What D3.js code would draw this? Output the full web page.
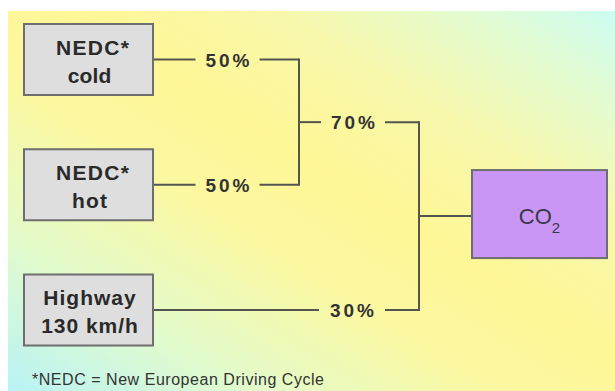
<!DOCTYPE html>
<html>
<head>
<meta charset="utf-8">
<script src="https://cdn.jsdelivr.net/npm/d3@7"></script>
<style>
  html, body { margin: 0; padding: 0; background: #ffffff; }
  svg { display: block; }
  text { font-family: "Liberation Sans", Arial, sans-serif; }
</style>
</head>
<body>
<div id="chart"></div>
<script>
// ---------------- data ----------------
const sourceIds = ["cold", "hot", "highway"];
const sourceLabels = [["NEDC*", "cold"], ["NEDC*", "hot"], ["Highway", "130 km/h"]];
const nedcShares = [50, 50];          // cold, hot  -> share within NEDC
const cycleShares = [70, 30];         // NEDC (combined), Highway -> share of CO2
const targetMain = "CO";
const targetSub = "2";
const footnote = "*NEDC = New European Driving Cycle";

// ---------------- layout ----------------
const W = 615, H = 391;
const svg = d3.select("#chart").append("svg").attr("width", W).attr("height", H);

const defs = svg.append("defs");
const grad = defs.append("linearGradient").attr("id", "bg")
  .attr("x1", 0).attr("y1", 1).attr("x2", 1).attr("y2", 0);
[[0, "#b8f3f6"], [0.2, "#e2fbcc"], [0.4, "#fbf8a2"], [0.55, "#fff796"], [0.72, "#f8f8ac"], [0.88, "#e2fcd2"], [1, "#ccfcf2"]]
  .forEach(([o, c]) => grad.append("stop").attr("offset", o).attr("stop-color", c));

svg.append("rect").attr("x", 8).attr("y", 11).attr("width", W - 8).attr("height", H - 11)
  .attr("fill", "url(#bg)");

// row scale (box centres) and column scale
const rowY = d3.scalePoint().domain(sourceIds).range([59.5, 310]);
const colX = d3.scaleOrdinal()
  .domain(["boxLeft", "boxRight", "label1", "join1", "label2", "join2", "targetLeft", "targetRight"])
  .range([24, 153, 227.5, 299, 353, 419, 472, 607]);

const boxH = 71, targetH = 88, gapHalf = 32;
const lineColor = "#555550", lineW = 2;
const g = svg.append("g");

function hline(x1, x2, y) {
  g.append("line").attr("x1", x1).attr("x2", x2).attr("y1", y).attr("y2", y)
    .attr("stroke", lineColor).attr("stroke-width", lineW);
}
function vline(x, y1, y2) {
  g.append("line").attr("x1", x).attr("x2", x).attr("y1", y1).attr("y2", y2)
    .attr("stroke", lineColor).attr("stroke-width", lineW).attr("stroke-linecap", "square");
}
function pctLabel(x, y, v) {
  g.append("text").attr("x", x).attr("y", y + 7).attr("text-anchor", "middle")
    .attr("font-size", 19).attr("font-weight", "bold").attr("fill", "#333")
    .attr("textLength", 44).attr("lengthAdjust", "spacing")
    .text(v + "%");
}

// NEDC branch lines
const nedcIds = sourceIds.slice(0, 2);
nedcIds.forEach((id, i) => {
  const y = rowY(id);
  hline(colX("boxRight"), colX("label1") - gapHalf, y);
  hline(colX("label1") + gapHalf, colX("join1"), y);
  pctLabel(colX("label1"), y, nedcShares[i]);
});
const y1a = rowY(nedcIds[0]), y1b = rowY(nedcIds[1]);
vline(colX("join1"), y1a, y1b);
const yNedc = (y1a + y1b) / 2;

// combined NEDC line -> join2
hline(colX("join1"), colX("label2") - gapHalf, yNedc);
hline(colX("label2") + gapHalf, colX("join2"), yNedc);
pctLabel(colX("label2"), yNedc, cycleShares[0]);

// highway line -> join2
const yHw = rowY("highway");
hline(colX("boxRight"), colX("label2") - gapHalf - 2, yHw);
hline(colX("label2") + gapHalf, colX("join2"), yHw);
pctLabel(colX("label2") - 1, yHw, cycleShares[1]);

vline(colX("join2"), yNedc, yHw);
const yTarget = (yNedc + yHw) / 2;
hline(colX("join2"), colX("targetLeft"), yTarget);

// source boxes
const textWidths = [[73, 43.5], [73, 35], [92.5, 96.5]];
sourceIds.forEach((id, i) => {
  const cy = rowY(id);
  const bx = colX("boxLeft"), bw = colX("boxRight") - colX("boxLeft");
  g.append("rect").attr("x", bx).attr("y", cy - boxH / 2).attr("width", bw).attr("height", boxH)
    .attr("fill", "#dedede").attr("stroke", "#6e6e6e").attr("stroke-width", 2);
  const cx = bx + bw / 2 + 1;
  sourceLabels[i].forEach((t, j) => {
    g.append("text").attr("x", cx + (j === 0 && i < 2 ? 3 : 0)).attr("y", cy + (j === 0 ? -5 : 23))
      .attr("text-anchor", "middle").attr("font-size", 21).attr("font-weight", "bold")
      .attr("fill", "#2a2a2a")
      .attr("textLength", textWidths[i][j]).attr("lengthAdjust", "spacing")
      .text(t);
  });
});

// target box
const tx = colX("targetLeft"), tw = colX("targetRight") - colX("targetLeft");
g.append("rect").attr("x", tx).attr("y", yTarget - targetH / 2 - 2).attr("width", tw).attr("height", targetH)
  .attr("fill", "#c996f6").attr("stroke", "#6e6e70").attr("stroke-width", 2);
const tt = g.append("text").attr("x", tx + tw / 2).attr("y", yTarget + 8)
  .attr("text-anchor", "middle").attr("font-size", 22).attr("fill", "#383848");
tt.append("tspan").text(targetMain);
tt.append("tspan").attr("font-size", 15).attr("dy", 9).text(targetSub);

// footnote
svg.append("text").attr("x", 32).attr("y", 385)
  .attr("font-size", 16).attr("fill", "#333")
  .attr("textLength", 292).attr("lengthAdjust", "spacing")
  .text(footnote);
</script>
</body>
</html>
